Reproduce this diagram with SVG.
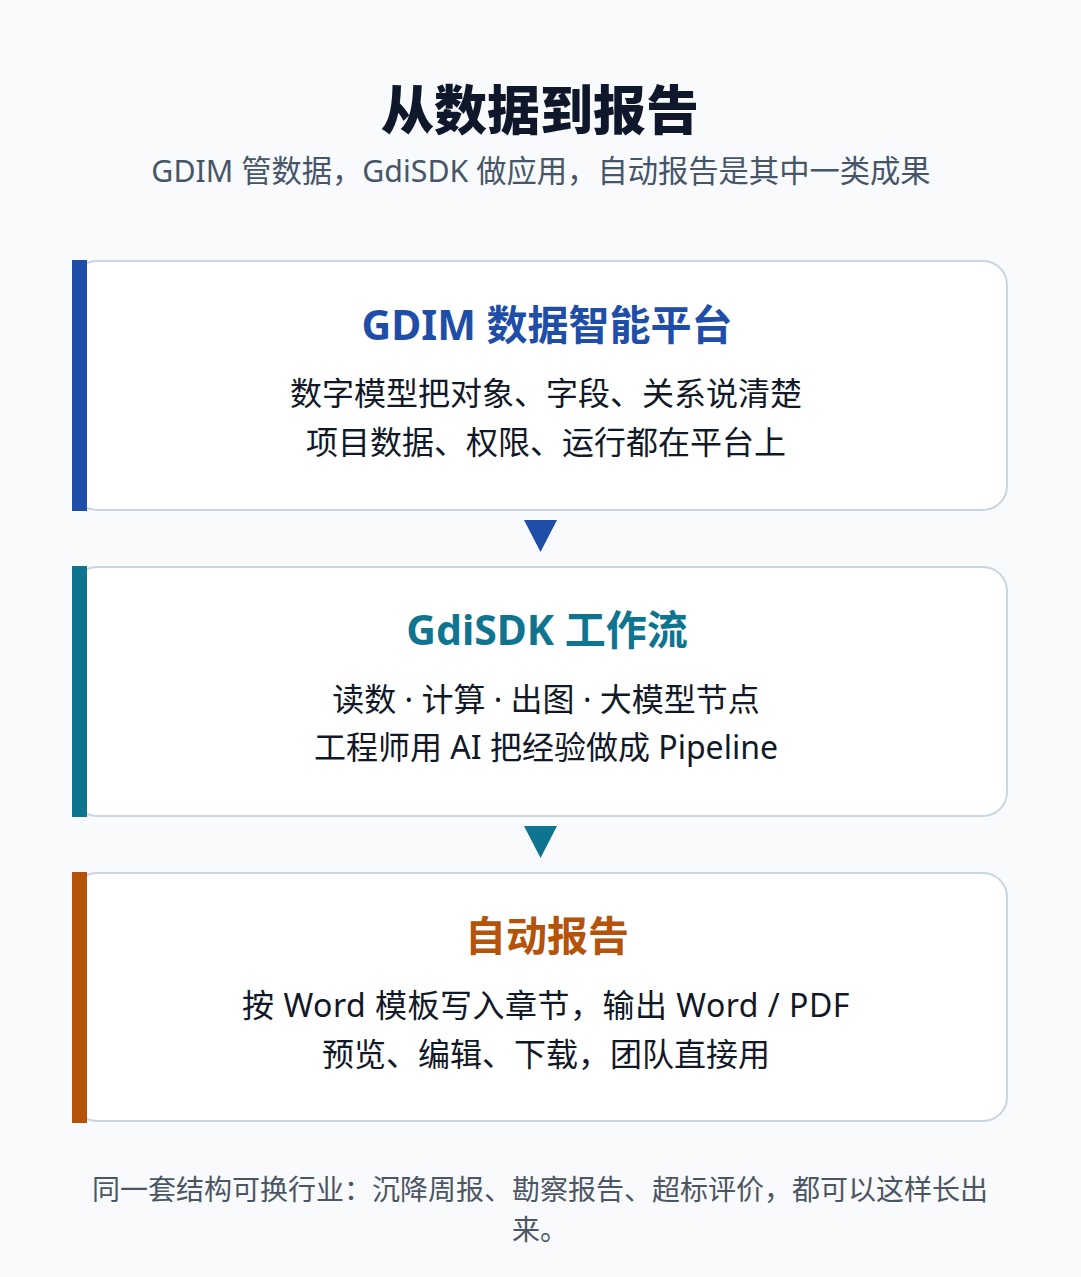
<svg xmlns="http://www.w3.org/2000/svg" width="1081" height="1277" viewBox="0 0 1081 1277">
<style>
text{font-family:"Noto Sans","Noto Sans CJK SC",sans-serif;text-anchor:middle}
.card{fill:#ffffff;stroke:#cbd5e1;stroke-width:2}
.h{font-size:41px;font-weight:700}
.b{font-size:32px;fill:#111827}
</style>
<rect width="1081" height="1277" fill="#f8fafc"/>
<text x="540" y="130" font-size="53" font-weight="900" fill="#0f172a">从数据到报告</text>
<text x="541" y="182" font-size="30.3" fill="#475569">GDIM 管数据，GdiSDK 做应用，自动报告是其中一类成果</text>
<g id="connectors">
<polygon points="524,520 557,520 540.5,552" fill="#1e4ea8"/>
<polygon points="524,826 557,826 540.5,858" fill="#0e7490"/>
</g>
<g id="gdim">
<rect class="card" x="73" y="261" width="934" height="249" rx="24"/>
<rect x="72" y="260" width="15" height="251" fill="#1e4ea8"/>
<text class="h" x="547" y="340" fill="#1e4ea8">GDIM 数据智能平台</text>
<text class="b" x="546" y="405">数字模型把对象、字段、关系说清楚</text>
<text class="b" x="546" y="454">项目数据、权限、运行都在平台上</text>
</g>
<g id="gdisdk">
<rect class="card" x="73" y="567" width="934" height="249" rx="24"/>
<rect x="72" y="566" width="15" height="251" fill="#0e7490"/>
<text class="h" x="547" y="645" fill="#0e7490">GdiSDK 工作流</text>
<text class="b" x="546" y="711">读数 · 计算 · 出图 · 大模型节点</text>
<text class="b" x="546" y="759">工程师用 AI 把经验做成 Pipeline</text>
</g>
<g id="report">
<rect class="card" x="73" y="873" width="934" height="248" rx="24"/>
<rect x="72" y="872" width="15" height="251" fill="#b45309"/>
<text class="h" x="547" y="951" fill="#b45309">自动报告</text>
<text class="b" x="546" y="1017" letter-spacing="0.5">按 Word 模板写入章节，输出 Word / PDF</text>
<text class="b" x="546" y="1066">预览、编辑、下载，团队直接用</text>
</g>
<text x="540" y="1200" font-size="28" fill="#4b5563">同一套结构可换行业：沉降周报、勘察报告、超标评价，都可以这样长出</text>
<text x="540" y="1240" font-size="28" fill="#4b5563">来。</text>
</svg>
